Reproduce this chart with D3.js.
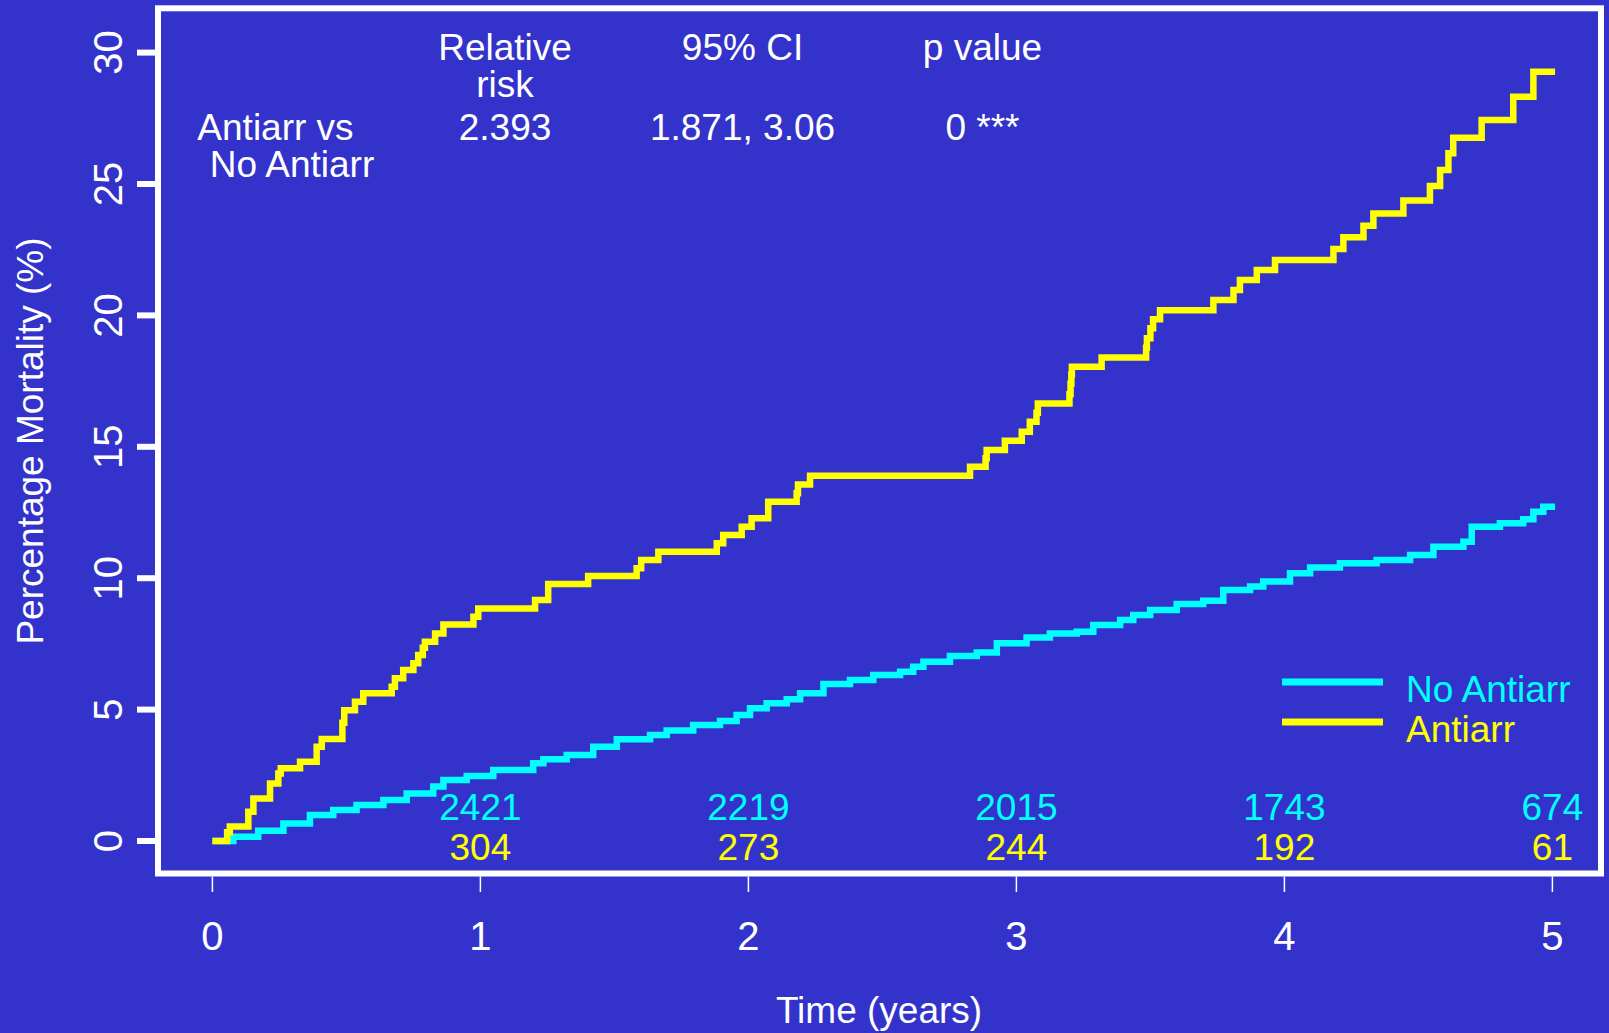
<!DOCTYPE html>
<html>
<head>
<meta charset="utf-8">
<script src="https://cdn.jsdelivr.net/npm/d3@7"></script>
<style>
  html, body { margin: 0; padding: 0; background: #3333cc; }
  svg { display: block; }
</style>
</head>
<body>
<svg id="km-svg" width="1609" height="1033"></svg>
<script>
// Cumulative mortality (step curves)

// Antiarr group: event times (years) and cumulative mortality (%)
const antiarrTime = [0, 0.055, 0.065, 0.134, 0.153, 0.215, 0.246, 0.255, 0.327, 0.389, 0.408, 0.485, 0.492,
    0.532, 0.563, 0.669, 0.681, 0.712, 0.75, 0.768, 0.785, 0.793, 0.831, 0.862, 0.974, 0.992, 1.204, 1.253,
    1.402, 1.583, 1.60, 1.664, 1.882, 1.906, 1.975, 2.012, 2.074, 2.18, 2.185, 2.23, 2.827, 2.885, 2.889,
    2.957, 3.02, 3.05, 3.075, 3.08, 3.198, 3.202, 3.205, 3.207, 3.318, 3.484, 3.487, 3.50, 3.51, 3.536,
    3.735, 3.81, 3.834, 3.897, 3.965, 4.183, 4.22, 4.295, 4.332, 4.444, 4.543, 4.581, 4.612, 4.63, 4.736,
    4.854, 4.929, 5.01];
const antiarrPct = [0, 0.33, 0.55, 1.11, 1.62, 2.19, 2.57, 2.77, 3.02, 3.59, 3.88, 4.5, 4.98,
    5.30, 5.62, 5.87, 6.19, 6.51, 6.76, 7.08, 7.35, 7.58, 7.90, 8.24, 8.53, 8.85, 9.17, 9.78,
    10.08, 10.38, 10.69, 11.01, 11.33, 11.64, 11.96, 12.28, 12.91, 13.23, 13.57, 13.90, 14.24, 14.56, 14.88,
    15.23, 15.57, 15.95, 16.30, 16.65, 17.0, 17.4, 17.75, 18.05, 18.40, 18.77, 19.13, 19.51, 19.85, 20.2,
    20.59, 20.97, 21.35, 21.73, 22.11, 22.53, 22.97, 23.41, 23.88, 24.37, 24.92, 25.53, 26.17, 26.76, 27.44,
    28.32, 29.27, 29.27];

// No Antiarr group
const noAntiarrTime = [0, 0.078, 0.171, 0.265, 0.364, 0.451, 0.538, 0.638, 0.725, 0.824, 0.862, 0.949,
    1.048, 1.197, 1.235, 1.322, 1.421, 1.509, 1.633, 1.695, 1.794, 1.894, 1.956, 2.006, 2.068, 2.143,
    2.193, 2.28, 2.379, 2.466, 2.566, 2.615, 2.653, 2.752, 2.852, 2.927, 3.038, 3.125, 3.225, 3.287,
    3.387, 3.436, 3.499, 3.598, 3.697, 3.772, 3.872, 3.921, 4.021, 4.096, 4.207, 4.344, 4.469, 4.556,
    4.668, 4.699, 4.804, 4.891, 4.929, 4.966, 5.01];
const noAntiarrPct = [0, 0.16, 0.39, 0.67, 0.99, 1.18, 1.37, 1.56, 1.81, 2.07, 2.32, 2.47,
    2.70, 2.96, 3.11, 3.27, 3.59, 3.87, 4.03, 4.20, 4.41, 4.57, 4.79, 5.05, 5.24, 5.39,
    5.62, 5.97, 6.13, 6.32, 6.44, 6.63, 6.82, 7.04, 7.17, 7.52, 7.74, 7.90, 7.96, 8.22,
    8.41, 8.60, 8.79, 9.02, 9.14, 9.55, 9.68, 9.87, 10.19, 10.41, 10.57, 10.69, 10.88, 11.20,
    11.39, 11.96, 12.09, 12.24, 12.53, 12.72, 12.72];

const xTicks = [0, 1, 2, 3, 4, 5];
const yTicks = [0, 5, 10, 15, 20, 25, 30];

// numbers at risk
const riskTimes = [1, 2, 3, 4, 5];
const riskNoAntiarr = [2421, 2219, 2015, 1743, 674];
const riskAntiarr = [304, 273, 244, 192, 61];

// summary table in the top of the plot
const statHeaders = [["Relative", "risk"], ["95% CI"], ["p value"]];
const statValues = ["2.393", "1.871, 3.06", "0 ***"];
const comparisonLabel = ["Antiarr vs", "No Antiarr"];

const legendLabels = ["No Antiarr", "Antiarr"];

const WHITE = "#ffffff";
const CYAN = "#00ffff";
const YELLOW = "#ffff00";
const FONT = "'Liberation Sans', Arial, Helvetica, sans-serif";

const svg = d3.select("#km-svg");

const x = d3.scaleLinear().domain([0, 5]).range([212.4, 1552.4]);
const y = d3.scaleLinear().domain([0, 30]).range([841, 52.6]);

// plot box
const box = { left: 158, top: 8.3, right: 1601, bottom: 873.5 };
svg.append("rect")
    .attr("x", box.left).attr("y", box.top)
    .attr("width", box.right - box.left).attr("height", box.bottom - box.top)
    .attr("fill", "none").attr("stroke", WHITE).attr("stroke-width", 6);

// y axis: thick ticks, rotated labels
const yAxis = svg.append("g");
yAxis.selectAll("line").data(yTicks).enter().append("line")
    .attr("x1", 137).attr("x2", box.left)
    .attr("y1", d => y(d)).attr("y2", d => y(d))
    .attr("stroke", WHITE).attr("stroke-width", 6);
yAxis.selectAll("text").data(yTicks).enter().append("text")
    .attr("transform", d => `translate(122,${y(d)}) rotate(-90)`)
    .attr("text-anchor", "middle")
    .attr("fill", WHITE)
    .style("font-family", FONT).style("font-size", "40px")
    .text(d => d);

// x axis: thin ticks below the box
const xAxis = svg.append("g");
xAxis.selectAll("line").data(xTicks).enter().append("line")
    .attr("x1", d => x(d)).attr("x2", d => x(d))
    .attr("y1", box.bottom + 3).attr("y2", 892)
    .attr("stroke", WHITE).attr("stroke-width", 1.5);
xAxis.selectAll("text").data(xTicks).enter().append("text")
    .attr("x", d => x(d)).attr("y", 950)
    .attr("text-anchor", "middle")
    .attr("fill", WHITE)
    .style("font-family", FONT).style("font-size", "40px")
    .text(d => d);

// axis titles
svg.append("text")
    .attr("transform", "translate(43,441) rotate(-90)")
    .attr("text-anchor", "middle").attr("fill", WHITE)
    .style("font-family", FONT).style("font-size", "37px")
    .text("Percentage Mortality (%)");
svg.append("text")
    .attr("x", 879).attr("y", 1023)
    .attr("text-anchor", "middle").attr("fill", WHITE)
    .style("font-family", FONT).style("font-size", "37px")
    .text("Time (years)");

// step curves
const line = d3.line()
    .x(d => x(d[0]))
    .y(d => y(d[1]))
    .curve(d3.curveStepAfter);

const series = [
    { time: noAntiarrTime, pct: noAntiarrPct, color: CYAN },
    { time: antiarrTime, pct: antiarrPct, color: YELLOW }
];

svg.append("g").selectAll("path").data(series).enter().append("path")
    .attr("d", s => line(s.time.map((t, i) => [t, s.pct[i]])))
    .attr("fill", "none")
    .attr("stroke", s => s.color)
    .attr("stroke-width", 6.5)
    .attr("stroke-linejoin", "miter")
    .attr("stroke-linecap", "butt");

// summary table
const colX = [505, 742.5, 982.5];
const table = svg.append("g")
    .style("font-family", FONT).style("font-size", "37px")
    .attr("fill", WHITE).attr("text-anchor", "middle");
statHeaders.forEach((lines, i) => {
    lines.forEach((txt, j) => {
        table.append("text").attr("x", colX[i]).attr("y", 60 + j * 37).text(txt);
    });
    table.append("text").attr("x", colX[i]).attr("y", 140).text(statValues[i]);
});
table.append("text").attr("x", 275.5).attr("y", 140).text(comparisonLabel[0]);
table.append("text").attr("x", 292).attr("y", 177).text(comparisonLabel[1]);

// numbers at risk
const riskRows = [
    { values: riskNoAntiarr, color: CYAN, yPos: 820 },
    { values: riskAntiarr, color: YELLOW, yPos: 860 }
];
riskRows.forEach(row => {
    svg.append("g").selectAll("text").data(riskTimes).enter().append("text")
        .attr("x", d => x(d)).attr("y", row.yPos)
        .attr("text-anchor", "middle")
        .attr("fill", row.color)
        .style("font-family", FONT).style("font-size", "37px")
        .text((d, i) => row.values[i]);
});

// legend
const legend = svg.append("g");
const legendColors = [CYAN, YELLOW];
legendLabels.forEach((lab, i) => {
    const ly = 682 + i * 40;
    legend.append("line")
        .attr("x1", 1282).attr("x2", 1383)
        .attr("y1", ly).attr("y2", ly)
        .attr("stroke", legendColors[i]).attr("stroke-width", 7);
    legend.append("text")
        .attr("x", 1406).attr("y", ly + 19.5)
        .attr("fill", legendColors[i])
        .style("font-family", FONT).style("font-size", "37px")
        .text(lab);
});
</script>
</body>
</html>
